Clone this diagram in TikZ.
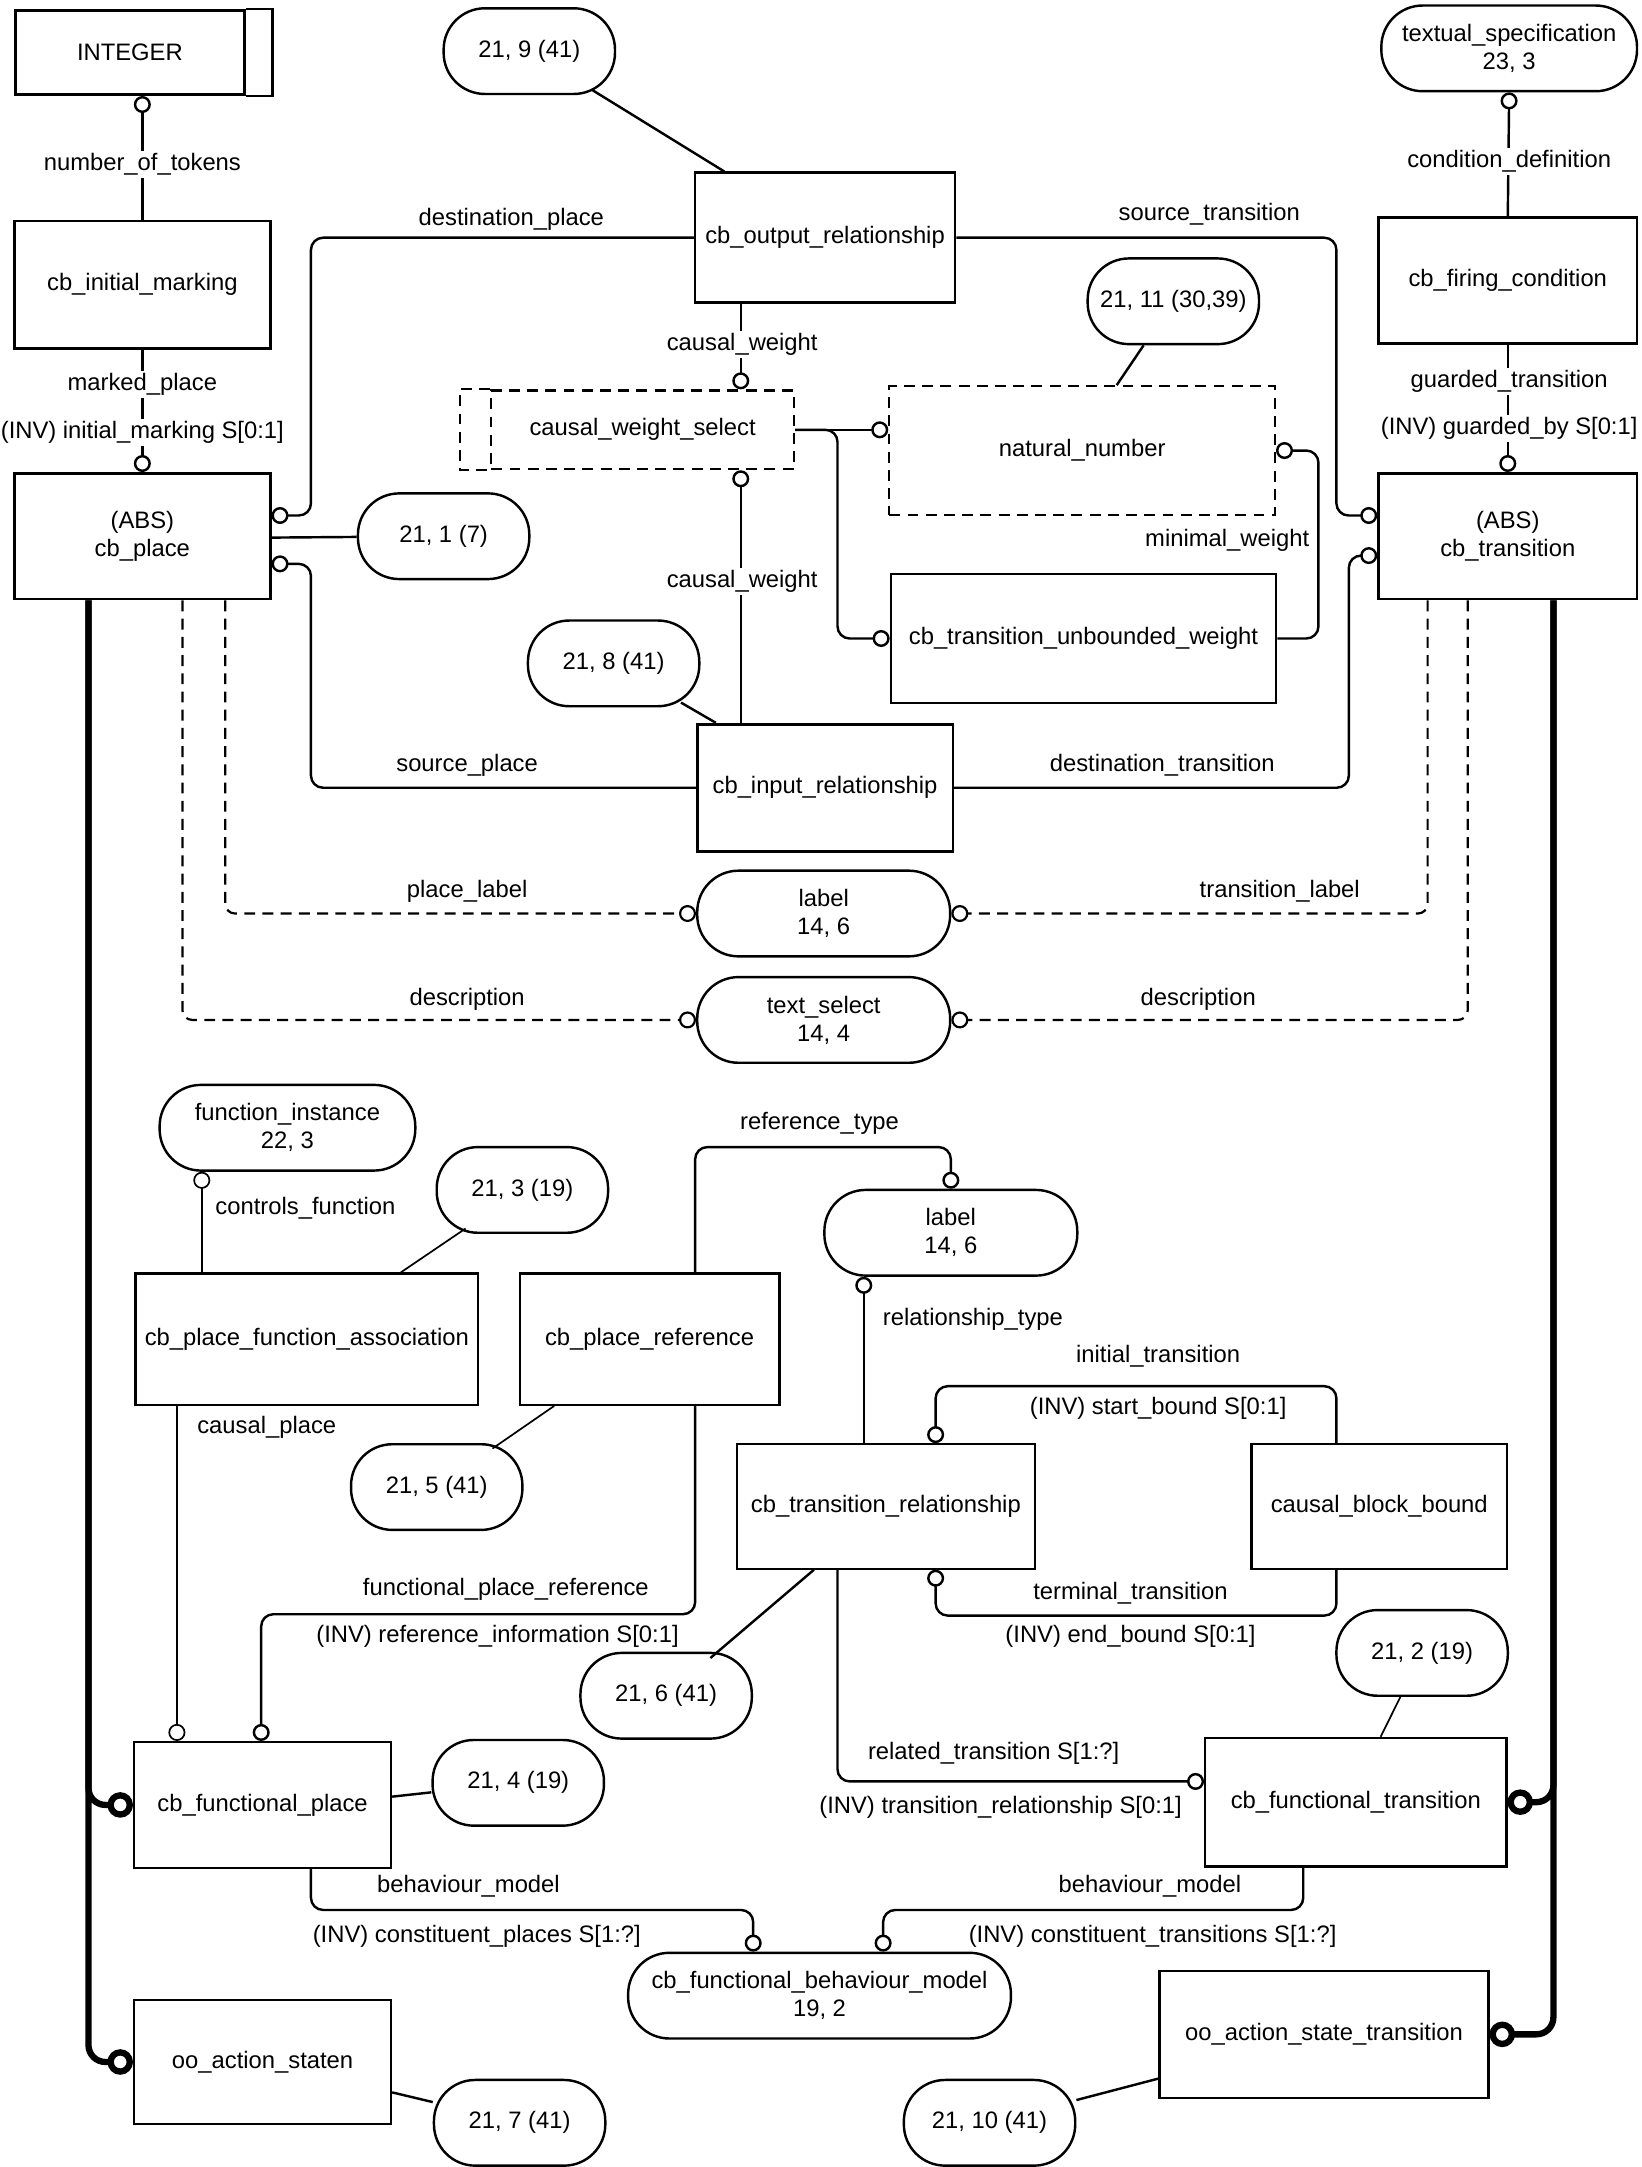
\documentclass[tikz,border=0pt]{standalone}
\usepackage{fontspec}
\setmainfont{Liberation Sans}
\usetikzlibrary{arrows.meta}

\begin{document}
\begin{tikzpicture}[x=0.02cm, y=-0.02cm,
    font=\fontsize{9.8}{11.5}\selectfont,
    dims/.style 2 args={minimum width=#1*0.02cm, minimum height=#2*0.02cm},
    entity/.style={draw, line width=1.1pt, inner sep=0pt, align=center},
    lightentity/.style={draw, line width=0.9pt, inner sep=0pt, align=center},
    typebox/.style={draw, line width=0.9pt, dash pattern=on 4.5pt off 3pt, inner sep=0pt, align=center},
    typeline/.style={line width=0.9pt, dash pattern=on 4.5pt off 3pt},
    pagebox/.style={draw, line width=1pt, rounded corners=17pt, inner sep=0pt, align=center},
    link/.style={line width=1pt, rounded corners=5pt},
    thinlink/.style={line width=0.7pt},
    heavylink/.style={line width=2.6pt, rounded corners=7pt},
    dashlink/.style={line width=0.9pt, dash pattern=on 4.5pt off 3pt, rounded corners=4pt},
    oc/.style={-{Circle[open,length=7pt]}},
    bigoc/.style={-{Circle[open,length=10.5pt]}},
    role/.style={fill=white, inner sep=1pt}]
    \useasboundingbox (0,0) rectangle (1188,1568);

    % Upper entities
    \node[entity, dims={166}{61}] (integer) at (94,38) {INTEGER};
    \draw[line width=1.1pt] (integer.north east) -- ++(19,0) |- (integer.south east);
    \node[entity, dims={185}{92}] (initmark) at (103,206) {cb\_initial\_marking};
    \node[entity, dims={185}{91}] (place) at (103,388) {(ABS)\\cb\_place};
    \node[entity, dims={188}{94}] (outrel) at (597,172) {cb\_output\_relationship};
    \node[typebox, dims={219}{57}] (cwsel) at (465,311) {causal\_weight\_select};
    \draw[typeline] (cwsel.north west) -- ++(-22,0) |- (cwsel.south west);
    \node[typebox, dims={279}{93}] (natnum) at (783,326) {natural\_number};
    \node[lightentity, dims={279}{93}] (ubweight) at (784,462) {cb\_transition\_unbounded\_weight};
    \node[entity, dims={185}{92}] (inrel) at (597,570) {cb\_input\_relationship};
    \node[entity, dims={187}{91}] (firing) at (1091,203) {cb\_firing\_condition};
    \node[entity, dims={187}{91}] (trans) at (1091,388) {(ABS)\\cb\_transition};

    % Lower entities
    \node[lightentity, dims={248}{95}] (pfassoc) at (222,969) {cb\_place\_function\_association};
    \node[lightentity, dims={188}{95}] (pref) at (470,969) {cb\_place\_reference};
    \node[lightentity, dims={216}{90}] (trel) at (641,1090) {cb\_transition\_relationship};
    \node[lightentity, dims={185}{90}] (cbbound) at (998,1090) {causal\_block\_bound};
    \node[lightentity, dims={186}{91}] (fplace) at (190,1306) {cb\_functional\_place};
    \node[lightentity, dims={218}{93}] (ftrans) at (981,1304) {cb\_functional\_transition};
    \node[lightentity, dims={186}{90}] (oostate) at (190,1492) {oo\_action\_staten};
    \node[lightentity, dims={238}{92}] (oost) at (958,1472) {oo\_action\_state\_transition};

    % Page references and other schemas
    \foreach \nm/\x/\y/\txt in {n219/383/37/{21, 9 (41)}, n2111/849/218/{21, 11 (30,39)},
        n211/321/388/{21, 1 (7)}, n218/444/480/{21, 8 (41)}, n213/378/861/{21, 3 (19)},
        n215/316/1076/{21, 5 (41)}, n216/482/1227/{21, 6 (41)}, n212/1029/1196/{21, 2 (19)},
        n214/375/1290/{21, 4 (19)}, n217/376/1536/{21, 7 (41)}, n2110/716/1536/{21, 10 (41)}}
        \node[pagebox, dims={124}{62}] (\nm) at (\x,\y) {\txt};
    \node[pagebox, dims={185}{62}] (txtspec) at (1092,35) {textual\_specification\\23, 3};
    \node[pagebox, dims={183}{62}] (lblA) at (596,661) {label\\14, 6};
    \node[pagebox, dims={183}{62}] (txtsel) at (596,738) {text\_select\\14, 4};
    \node[pagebox, dims={185}{62}] (fninst) at (208,816) {function\_instance\\22, 3};
    \node[pagebox, dims={183}{62}] (lblB) at (688,892) {label\\14, 6};
    \node[pagebox, dims={277}{62}] (bmodel) at (593,1444) {cb\_functional\_behaviour\_model\\19, 2};

    % Upper relationships
    \draw[link, oc] (initmark.north) -- (integer.south -| initmark.north);
    \draw[link, oc] (initmark.south) -- (place.north);
    \draw[link, shorten <=-4pt] (n219) -- (outrel.north -| 524,0);
    \draw[link, oc] (outrel.west) -- (225,172) -- (225,373) -- (place.east |- 0,373);
    \draw[link, oc] (outrel.east) -- (967,172) -- (967,373) -- (trans.west |- 0,373);
    \draw[link, oc] (outrel.south -| 536,0) -- (cwsel.north -| 536,0);
    \draw[link, oc] (inrel.north -| 536,0) -- (cwsel.south -| 536,0);
    \draw[link, shorten <=-4pt] (n218) -- (inrel.north -| 518,0);
    \draw[link] (place.east |- 0,389) -- (n211);
    \draw[link, oc] (inrel.west) -- (225,570) -- (225,408) -- (place.east |- 0,408);
    \draw[link, oc] (inrel.east) -- (976,570) -- (976,402) -- (trans.west |- 0,402);
    \draw[link, oc] (cwsel.east) -- (natnum.west |- cwsel.east);
    \draw[link, oc] (cwsel.east) -- (606,311) -- (606,462) -- (ubweight.west);
    \draw[link] (n2111) -- (natnum.north -| 808,0);
    \draw[link, oc] (ubweight.east) -- (954,462) -- (954,326) -- (natnum.east);
    \draw[link, oc] (firing.north) -- (txtspec.south);
    \draw[link, oc] (firing.south) -- (trans.north);

    % Labels and descriptions
    \draw[dashlink, oc] (place.south -| 163,0) -- (163,661) -- (lblA.west);
    \draw[dashlink, oc] (place.south -| 132,0) -- (132,738) -- (txtsel.west);
    \draw[dashlink, oc] (trans.south -| 1033,0) -- (1033,661) -- (lblA.east);
    \draw[dashlink, oc] (trans.south -| 1062,0) -- (1062,738) -- (txtsel.east);

    % Subtypes
    \draw[heavylink, bigoc] (place.south -| 64,0) -- (64,1306) -- (fplace.west);
    \draw[heavylink, bigoc] (place.south -| 64,0) -- (64,1492) -- (oostate.west);
    \draw[heavylink, bigoc] (trans.south -| 1124,0) -- (1124,1304) -- (ftrans.east);
    \draw[heavylink, bigoc] (trans.south -| 1124,0) -- (1124,1472) -- (oost.east);

    % Lower relationships
    \draw[thinlink, oc] (pfassoc.north -| 146,0) -- (fninst.south -| 146,0);
    \draw[thinlink, shorten <=-4pt] (n213) -- (pfassoc.north -| 290,0);
    \draw[thinlink, oc] (pfassoc.south -| 128,0) -- (fplace.north -| 128,0);
    \draw[thinlink, shorten >=-4pt] (pref.south -| 401,0) -- (n215);
    \draw[link, oc] (pref.north -| 503,0) -- (503,830) -- (688,830) -- (lblB.north);
    \draw[link, oc] (pref.south -| 503,0) -- (503,1168) -- (189,1168) -- (fplace.north -| 189,0);
    \draw[link, oc] (trel.north -| 625,0) -- (lblB.south -| 625,0);
    \draw[link, oc] (cbbound.north -| 967,0) -- (967,1003) -- (677,1003) -- (trel.north -| 677,0);
    \draw[link, oc] (cbbound.south -| 967,0) -- (967,1169) -- (677,1169) -- (trel.south -| 677,0);
    \draw[link, shorten >=-4pt] (trel.south -| 589,0) -- (n216);
    \draw[link, oc] (trel.south -| 606,0) -- (606,1289) -- (ftrans.west |- 0,1289);
    \draw[thinlink] (n212) -- (ftrans.north -| 999,0);
    \draw[link] (fplace.east |- 0,1300) -- (n214);
    \draw[link, oc] (fplace.south -| 225,0) -- (225,1382) -- (545,1382) -- (bmodel.north -| 545,0);
    \draw[link, oc] (ftrans.south -| 943,0) -- (943,1382) -- (639,1382) -- (bmodel.north -| 639,0);
    \draw[link] (oostate.east |- 0,1514) -- (n217);
    \draw[link] (oost.west |- 0,1504) -- (n2110);

    % Role names
    \node[role] (lbtokens) at (103,119) {number\_of\_tokens};
    \node[role] (lbmarked) at (103,278) {marked\_place};
    \node[role] (lbinitial) at (103,313) {(INV) initial\_marking S[0:1]};
    \node[role] (lbdestp) at (370,159) {destination\_place};
    \node[role] (lbsrct) at (875,155) {source\_transition};
    \node[role] (lbweightA) at (537,249) {causal\_weight};
    \node[role] (lbweightB) at (537,421) {causal\_weight};
    \node[role] (lbminimal) at (888,391) {minimal\_weight};
    \node[role] (lbcondition) at (1092,117) {condition\_definition};
    \node[role] (lbguarded) at (1092,276) {guarded\_transition};
    \node[role] (lbguardby) at (1092,310) {(INV) guarded\_by S[0:1]};
    \node[role] (lbsrcp) at (338,554) {source\_place};
    \node[role] (lbdestt) at (841,554) {destination\_transition};
    \node[role] (lbplabel) at (338,645) {place\_label};
    \node[role] (lbtlabel) at (926,645) {transition\_label};
    \node[role] (lbpdesc) at (338,723) {description};
    \node[role] (lbtdesc) at (867,723) {description};
    \node[role] (lbcontrols) at (221,874) {controls\_function};
    \node[role] (lbreftype) at (593,813) {reference\_type};
    \node[role] (lbreltype) at (704,955) {relationship\_type};
    \node[role] (lbinitt) at (838,981) {initial\_transition};
    \node[role] (lbstart) at (838,1019) {(INV) start\_bound S[0:1]};
    \node[role] (lbcausal) at (193,1033) {causal\_place};
    \node[role] (lbfpref) at (366,1150) {functional\_place\_reference};
    \node[role] (lbrefinfo) at (360,1184) {(INV) reference\_information S[0:1]};
    \node[role] (lbtermt) at (818,1153) {terminal\_transition};
    \node[role] (lbend) at (818,1184) {(INV) end\_bound S[0:1]};
    \node[role] (lbrelt) at (719,1269) {related\_transition S[1:?]};
    \node[role] (lbtrel) at (724,1308) {(INV) transition\_relationship S[0:1]};
    \node[role] (lbbehp) at (339,1365) {behaviour\_model};
    \node[role] (lbconstp) at (345,1401) {(INV) constituent\_places S[1:?]};
    \node[role] (lbbeht) at (832,1365) {behaviour\_model};
    \node[role] (lbconstt) at (834,1401) {(INV) constituent\_transitions S[1:?]};
\end{tikzpicture}
\end{document}
